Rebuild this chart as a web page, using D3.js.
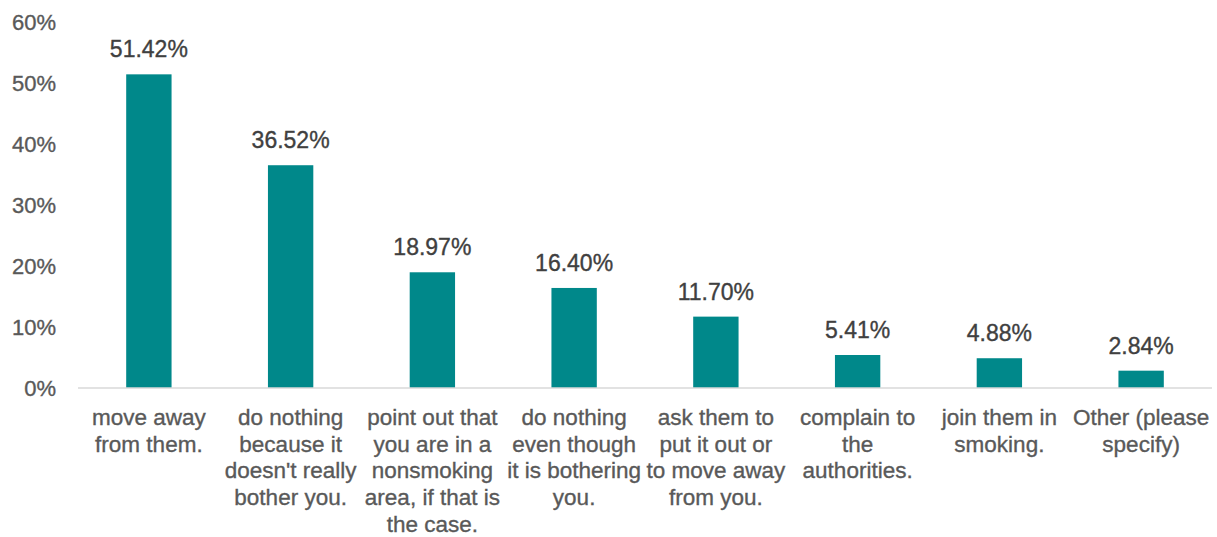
<!DOCTYPE html>
<html><head><meta charset="utf-8">
<script src="https://cdn.jsdelivr.net/npm/d3@7"></script>
<style>body{margin:0;background:#fff}svg{display:block}</style>
</head><body><svg id="c" width="1217" height="537"></svg>
<script>
const categories = [
  "move away\nfrom them.",
  "do nothing\nbecause it\ndoesn't really\nbother you.",
  "point out that\nyou are in a\nnonsmoking\narea, if that is\nthe case.",
  "do nothing\neven though\nit is bothering\nyou.",
  "ask them to\nput it out or\nto move away\nfrom you.",
  "complain to\nthe\nauthorities.",
  "join them in\nsmoking.",
  "Other (please\nspecify)"
];
const values = [51.42, 36.52, 18.97, 16.40, 11.70, 5.41, 4.88, 2.84];
const yTicks = [0, 10, 20, 30, 40, 50, 60];

(function () {
const svg = d3.select("#c");
const font = "'Liberation Sans', Arial, sans-serif";
const mLeft = 78, mRight = 1212, mTop = 22, mBottom = 388;
const x = d3.scaleBand().domain(categories).range([mLeft, mRight]).paddingInner(0.68).paddingOuter(0.34);
const y = d3.scaleLinear().domain([0, 60]).range([mBottom, mTop]);

// y axis labels
const ya = svg.append("g").attr("transform", `translate(${mLeft},0)`)
  .call(d3.axisLeft(y).tickValues(yTicks).tickFormat(d => d + "%").tickSize(0).tickPadding(22));
ya.select(".domain").remove();
ya.selectAll("text").attr("font-family", font).attr("font-size", 22).attr("fill", "#595959")
  .attr("stroke", "#595959").attr("stroke-width", 0.35);

// bars
svg.append("g").selectAll("rect").data(values).join("rect")
  .attr("x", (d, i) => x(categories[i]))
  .attr("width", x.bandwidth())
  .attr("y", d => y(d))
  .attr("height", d => y(0) - y(d))
  .attr("fill", "#00888A");

// baseline
svg.append("line").attr("x1", mLeft).attr("x2", mRight).attr("y1", y(0)).attr("y2", y(0))
  .attr("stroke", "#d9d9d9").attr("stroke-width", 1.5);

// value labels
svg.append("g").selectAll("text").data(values).join("text")
  .attr("x", (d, i) => x(categories[i]) + x.bandwidth() / 2)
  .attr("y", d => y(d) - 17)
  .attr("text-anchor", "middle")
  .attr("font-family", font).attr("font-size", 23).attr("fill", "#404040")
  .attr("stroke", "#404040").attr("stroke-width", 0.35)
  .text(d => d.toFixed(2) + "%");

// category labels
const xa = svg.append("g").attr("transform", `translate(0,${mBottom})`)
  .call(d3.axisBottom(x).tickSize(0).tickFormat(""));
xa.select(".domain").remove();
xa.selectAll(".tick").each(function(d) {
  const t = d3.select(this).append("text")
    .attr("text-anchor", "middle")
    .attr("font-family", font).attr("font-size", 22.5).attr("fill", "#595959")
    .attr("stroke", "#595959").attr("stroke-width", 0.35);
  d.split("\n").forEach((line, k) => {
    t.append("tspan").attr("x", 0).attr("y", 37 + k * 26.7).text(line);
  });
});
})();
</script></body></html>
